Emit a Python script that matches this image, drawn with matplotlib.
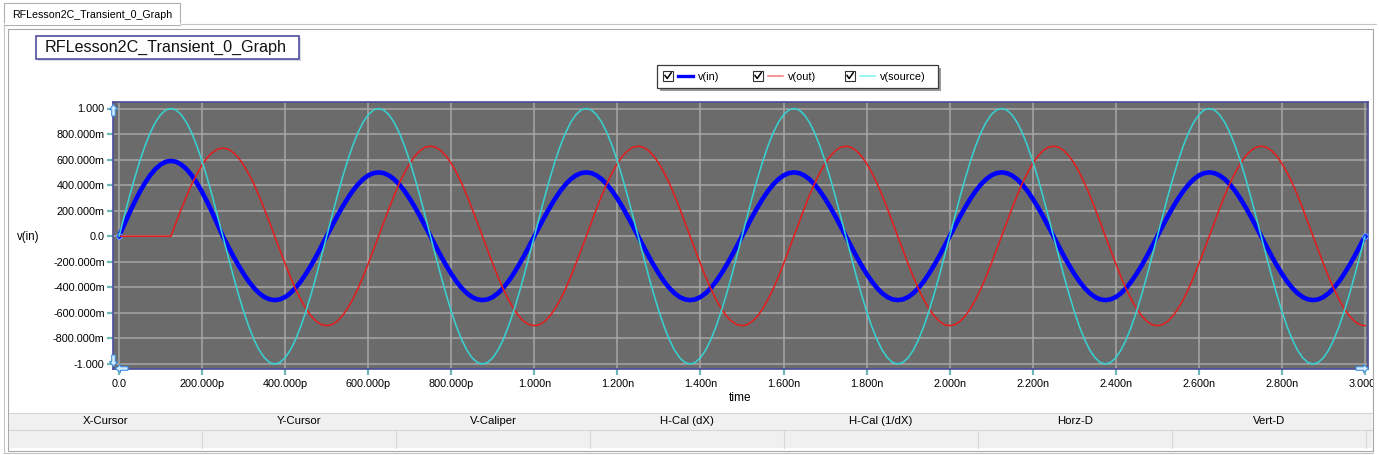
import numpy as np
import matplotlib
matplotlib.use("Agg")
import matplotlib.pyplot as plt
from matplotlib.patches import Rectangle, Polygon
from matplotlib.lines import Line2D

# ---------------- data (12.5 ps steps, 0 .. 3 ns) ----------------
time_ns = np.linspace(0.0, 3.0, 241)

source_v = [
    0.0, 0.156, 0.309, 0.454, 0.588, 0.707, 0.809, 0.891, 0.951, 0.988, 1.0, 0.988, 0.951, 0.891, 0.809, 0.707, 0.588, 0.454, 0.309, 0.156,
    0.0, -0.156, -0.309, -0.454, -0.588, -0.707, -0.809, -0.891, -0.951, -0.988, -1.0, -0.988, -0.951, -0.891, -0.809, -0.707, -0.588, -0.454, -0.309, -0.156,
    0.0, 0.156, 0.309, 0.454, 0.588, 0.707, 0.809, 0.891, 0.951, 0.988, 1.0, 0.988, 0.951, 0.891, 0.809, 0.707, 0.588, 0.454, 0.309, 0.156,
    0.0, -0.156, -0.309, -0.454, -0.588, -0.707, -0.809, -0.891, -0.951, -0.988, -1.0, -0.988, -0.951, -0.891, -0.809, -0.707, -0.588, -0.454, -0.309, -0.156,
    0.0, 0.156, 0.309, 0.454, 0.588, 0.707, 0.809, 0.891, 0.951, 0.988, 1.0, 0.988, 0.951, 0.891, 0.809, 0.707, 0.588, 0.454, 0.309, 0.156,
    0.0, -0.156, -0.309, -0.454, -0.588, -0.707, -0.809, -0.891, -0.951, -0.988, -1.0, -0.988, -0.951, -0.891, -0.809, -0.707, -0.588, -0.454, -0.309, -0.156,
    0.0, 0.156, 0.309, 0.454, 0.588, 0.707, 0.809, 0.891, 0.951, 0.988, 1.0, 0.988, 0.951, 0.891, 0.809, 0.707, 0.588, 0.454, 0.309, 0.156,
    0.0, -0.156, -0.309, -0.454, -0.588, -0.707, -0.809, -0.891, -0.951, -0.988, -1.0, -0.988, -0.951, -0.891, -0.809, -0.707, -0.588, -0.454, -0.309, -0.156,
    0.0, 0.156, 0.309, 0.454, 0.588, 0.707, 0.809, 0.891, 0.951, 0.988, 1.0, 0.988, 0.951, 0.891, 0.809, 0.707, 0.588, 0.454, 0.309, 0.156,
    0.0, -0.156, -0.309, -0.454, -0.588, -0.707, -0.809, -0.891, -0.951, -0.988, -1.0, -0.988, -0.951, -0.891, -0.809, -0.707, -0.588, -0.454, -0.309, -0.156,
    0.0, 0.156, 0.309, 0.454, 0.588, 0.707, 0.809, 0.891, 0.951, 0.988, 1.0, 0.988, 0.951, 0.891, 0.809, 0.707, 0.588, 0.454, 0.309, 0.156,
    0.0, -0.156, -0.309, -0.454, -0.588, -0.707, -0.809, -0.891, -0.951, -0.988, -1.0, -0.988, -0.951, -0.891, -0.809, -0.707, -0.588, -0.454, -0.309, -0.156,
    0.0]

in_v = [
    0.0, 0.092, 0.182, 0.268, 0.347, 0.417, 0.477, 0.526, 0.561, 0.583, 0.590, 0.583, 0.561, 0.526, 0.477, 0.417, 0.347, 0.268, 0.182, 0.092,
    0.0, -0.078, -0.155, -0.227, -0.294, -0.354, -0.405, -0.446, -0.476, -0.494, -0.5, -0.494, -0.476, -0.446, -0.405, -0.354, -0.294, -0.227, -0.155, -0.078,
    0.0, 0.078, 0.155, 0.227, 0.294, 0.354, 0.405, 0.446, 0.476, 0.494, 0.5, 0.494, 0.476, 0.446, 0.405, 0.354, 0.294, 0.227, 0.155, 0.078,
    0.0, -0.078, -0.155, -0.227, -0.294, -0.354, -0.405, -0.446, -0.476, -0.494, -0.5, -0.494, -0.476, -0.446, -0.405, -0.354, -0.294, -0.227, -0.155, -0.078,
    0.0, 0.078, 0.155, 0.227, 0.294, 0.354, 0.405, 0.446, 0.476, 0.494, 0.5, 0.494, 0.476, 0.446, 0.405, 0.354, 0.294, 0.227, 0.155, 0.078,
    0.0, -0.078, -0.155, -0.227, -0.294, -0.354, -0.405, -0.446, -0.476, -0.494, -0.5, -0.494, -0.476, -0.446, -0.405, -0.354, -0.294, -0.227, -0.155, -0.078,
    0.0, 0.078, 0.155, 0.227, 0.294, 0.354, 0.405, 0.446, 0.476, 0.494, 0.5, 0.494, 0.476, 0.446, 0.405, 0.354, 0.294, 0.227, 0.155, 0.078,
    0.0, -0.078, -0.155, -0.227, -0.294, -0.354, -0.405, -0.446, -0.476, -0.494, -0.5, -0.494, -0.476, -0.446, -0.405, -0.354, -0.294, -0.227, -0.155, -0.078,
    0.0, 0.078, 0.155, 0.227, 0.294, 0.354, 0.405, 0.446, 0.476, 0.494, 0.5, 0.494, 0.476, 0.446, 0.405, 0.354, 0.294, 0.227, 0.155, 0.078,
    0.0, -0.078, -0.155, -0.227, -0.294, -0.354, -0.405, -0.446, -0.476, -0.494, -0.5, -0.494, -0.476, -0.446, -0.405, -0.354, -0.294, -0.227, -0.155, -0.078,
    0.0, 0.078, 0.155, 0.227, 0.294, 0.354, 0.405, 0.446, 0.476, 0.494, 0.5, 0.494, 0.476, 0.446, 0.405, 0.354, 0.294, 0.227, 0.155, 0.078,
    0.0, -0.078, -0.155, -0.227, -0.294, -0.354, -0.405, -0.446, -0.476, -0.494, -0.5, -0.494, -0.476, -0.446, -0.405, -0.354, -0.294, -0.227, -0.155, -0.078,
    0.0]

out_v = [
    0.0, 0.0, 0.0, 0.0, 0.0, 0.0, 0.0, 0.0, 0.0, 0.0, 0.0,
    0.108, 0.213, 0.313, 0.406, 0.488, 0.558, 0.615, 0.656, 0.682, 0.690, 0.682, 0.656, 0.615, 0.558, 0.488, 0.406, 0.313, 0.213, 0.108, 0.0,
    -0.109, -0.216, -0.318, -0.412, -0.495, -0.566, -0.624, -0.666, -0.692, -0.70, -0.692, -0.666, -0.624, -0.566, -0.495, -0.412, -0.318, -0.216, -0.109, 0.0,
    0.110, 0.218, 0.320, 0.415, 0.498, 0.570, 0.628, 0.670, 0.697, 0.705, 0.697, 0.670, 0.628, 0.570, 0.498, 0.415, 0.320, 0.218, 0.110, 0.0,
    -0.109, -0.216, -0.318, -0.412, -0.495, -0.566, -0.624, -0.666, -0.692, -0.70, -0.692, -0.666, -0.624, -0.566, -0.495, -0.412, -0.318, -0.216, -0.109, 0.0,
    0.110, 0.218, 0.320, 0.415, 0.498, 0.570, 0.628, 0.670, 0.697, 0.705, 0.697, 0.670, 0.628, 0.570, 0.498, 0.415, 0.320, 0.218, 0.110, 0.0,
    -0.109, -0.216, -0.318, -0.412, -0.495, -0.566, -0.624, -0.666, -0.692, -0.70, -0.692, -0.666, -0.624, -0.566, -0.495, -0.412, -0.318, -0.216, -0.109, 0.0,
    0.110, 0.218, 0.320, 0.415, 0.498, 0.570, 0.628, 0.670, 0.697, 0.705, 0.697, 0.670, 0.628, 0.570, 0.498, 0.415, 0.320, 0.218, 0.110, 0.0,
    -0.109, -0.216, -0.318, -0.412, -0.495, -0.566, -0.624, -0.666, -0.692, -0.70, -0.692, -0.666, -0.624, -0.566, -0.495, -0.412, -0.318, -0.216, -0.109, 0.0,
    0.110, 0.218, 0.320, 0.415, 0.498, 0.570, 0.628, 0.670, 0.697, 0.705, 0.697, 0.670, 0.628, 0.570, 0.498, 0.415, 0.320, 0.218, 0.110, 0.0,
    -0.109, -0.216, -0.318, -0.412, -0.495, -0.566, -0.624, -0.666, -0.692, -0.70, -0.692, -0.666, -0.624, -0.566, -0.495, -0.412, -0.318, -0.216, -0.109, 0.0,
    0.110, 0.218, 0.320, 0.415, 0.498, 0.570, 0.628, 0.670, 0.697, 0.705, 0.697, 0.670, 0.628, 0.570, 0.498, 0.415, 0.320, 0.218, 0.110, 0.0,
    -0.109, -0.216, -0.318, -0.412, -0.495, -0.566, -0.624, -0.666, -0.692, -0.70]

xtick_vals = [0.0, 0.2, 0.4, 0.6, 0.8, 1.0, 1.2, 1.4, 1.6, 1.8, 2.0, 2.2, 2.4, 2.6, 2.8, 3.0]
xtick_labels = ["0.0", "200.000p", "400.000p", "600.000p", "800.000p", "1.000n", "1.200n", "1.400n",
                "1.600n", "1.800n", "2.000n", "2.200n", "2.400n", "2.600n", "2.800n", "3.000n"]
ytick_vals = [1.0, 0.8, 0.6, 0.4, 0.2, 0.0, -0.2, -0.4, -0.6, -0.8, -1.0]
ytick_labels = ["1.000", "800.000m", "600.000m", "400.000m", "200.000m", "0.0",
                "-200.000m", "-400.000m", "-600.000m", "-800.000m", "-1.000"]
series_names = ["v(in)", "v(out)", "v(source)"]
table_headers = ["X-Cursor", "Y-Cursor", "V-Caliper", "H-Cal (dX)", "H-Cal (1/dX)", "Horz-D", "Vert-D"]
graph_title = "RFLesson2C_Transient_0_Graph"

# ---------------- figure ----------------
W, H = 1379, 455
FONT = "Liberation Sans"
plt.rcParams["font.family"] = [FONT, "DejaVu Sans"]
fig = plt.figure(figsize=(W / 100, H / 100), dpi=100)
fig.patch.set_facecolor("white")


def fx(x):
    return x / W


def fy(y):
    return 1 - y / H


def rect(x0, y0, x1, y1, fc="none", ec="none", lw=1.0, z=-5):
    fig.add_artist(Rectangle((fx(x0), fy(y1)), (x1 - x0) / W, (y1 - y0) / H,
                             transform=fig.transFigure, facecolor=fc, edgecolor=ec,
                             linewidth=lw, zorder=z))


def line(xs, ys, color, lw=1.0, z=-4, **kw):
    fig.add_artist(Line2D([fx(x) for x in xs], [fy(y) for y in ys], transform=fig.transFigure,
                          color=color, linewidth=lw, zorder=z, **kw))


def poly(pts, fc, ec, lw=0.8, z=10):
    fig.add_artist(Polygon([(fx(x), fy(y)) for x, y in pts], closed=True, transform=fig.transFigure,
                           facecolor=fc, edgecolor=ec, linewidth=lw, zorder=z))


def text(x, y, s, size, ha="left", va="center", color="black", z=5):
    fig.text(fx(x), fy(y), s, ha=ha, va=va, fontsize=size, color=color, zorder=z, family=[FONT, "DejaVu Sans"])


# window frame / tab
rect(4, 24, 1376, 453, fc="white", ec="#c4c4c4", lw=0.8, z=-10)
rect(8, 29, 1373, 450.5, fc="white", ec="#a8a8a8", lw=0.8, z=-9)
rect(4, 3, 180, 24.5, fc="white", ec="#b0b0b0", lw=0.8, z=-8)
line([4.5, 179.5], [24, 24], "white", lw=1.2, z=-7)
text(12, 14.5, graph_title, 7.7)

# title box
rect(38, 38, 301, 61, fc="#d8d8e8", ec="none", z=-6)
rect(36, 36, 299, 59, fc="white", ec="#5c5ca6", lw=1.3, z=-5)
text(45, 47.5, graph_title, 11.6, color="#111111")

# bottom cursor table
rect(9, 413, 1372, 448, fc="#f0f0f0", ec="none", z=-7)
line([9, 1372], [413.2, 413.2], "#d6d6d6", lw=0.8, z=-6)
line([9, 1372], [429.5, 429.5], "#d6d6d6", lw=0.8, z=-6)
for i, hdr in enumerate(table_headers):
    cx = 105 + 194 * i
    text(cx, 421.5, hdr, 8.2, ha="center")
    sx = 202 + 194 * i
    line([sx, sx], [430, 447.5], "#d8d8d8", lw=0.8, z=-6)

# ---------------- plot axes ----------------
ax_left, ax_right, ax_top, ax_bot = 113, 1368, 102, 369
ax = fig.add_axes([fx(ax_left), fy(ax_bot), (ax_right - ax_left) / W, (ax_bot - ax_top) / H])
px_per_ns = (1365 - 119) / 3.0
px_per_v = (364 - 108.5) / 2.0
ax.set_xlim(-(119 - ax_left) / px_per_ns, 3.0 + (ax_right - 1365) / px_per_ns)
ax.set_ylim(-1.0 - (ax_bot - 364) / px_per_v, 1.0 + (108.5 - ax_top) / px_per_v)
ax.set_facecolor("#6b6b6b")
ax.set_axisbelow(True)
ax.grid(True, color="#a6a6a6", linewidth=1.1)
for sp in ax.spines.values():
    sp.set_color("#4c4c9c")
    sp.set_linewidth(1.2)

ax.set_xticks(xtick_vals)
ax.set_xticklabels(xtick_labels)
ax.set_yticks(ytick_vals)
ax.set_yticklabels(ytick_labels)
ax.tick_params(axis="both", direction="out", length=4.0, width=1.6, color="#6fb6b6",
               labelsize=7.8, pad=2.0, labelcolor="black")
ax.tick_params(axis="x", pad=3.0)

ax.plot(time_ns, in_v, color="#0000ff", linewidth=3.3, solid_capstyle="round",
        solid_joinstyle="round", zorder=3)
ax.plot(time_ns[[0, -1]], np.array(in_v)[[0, -1]], linestyle="none", marker="o", markersize=4,
        markerfacecolor="#0000ff", markeredgecolor="#6aa8ff", markeredgewidth=0.8, zorder=3.5)
ax.plot(time_ns, out_v, color="#e41e1e", linewidth=1.15, zorder=4)
ax.plot(time_ns, source_v, color="#38d0d0", linewidth=1.15, zorder=5)

# axis titles
text(28, 236.5, "v(in)", 8.3, ha="center")
text(740, 398, "time", 8.6, ha="center")

# corner scroll arrows of the graph frame
ARW_FC, ARW_EC = "#d6ebff", "#3d8fe0"
poly([(113.5, 104.5), (117.5, 109.5), (115.3, 109.5), (115.3, 116), (111.7, 116), (111.7, 109.5), (109.5, 109.5)], ARW_FC, ARW_EC)
poly([(113.5, 366.5), (117.5, 361.5), (115.3, 361.5), (115.3, 355), (111.7, 355), (111.7, 361.5), (109.5, 361.5)], ARW_FC, ARW_EC)
poly([(115.5, 368.5), (120.5, 364.5), (120.5, 366.7), (128, 366.7), (128, 370.3), (120.5, 370.3), (120.5, 372.5)], ARW_FC, ARW_EC)
poly([(1368.5, 368.5), (1363.5, 364.5), (1363.5, 366.7), (1356, 366.7), (1356, 370.3), (1363.5, 370.3), (1363.5, 372.5)], ARW_FC, ARW_EC)

# ---------------- legend ----------------
rect(660, 68, 941, 91, fc="#9a9a9a", ec="none", z=6)
rect(657, 65, 938, 88, fc="white", ec="#3a3a3a", lw=0.9, z=7)
legend_x = [663, 753, 845]
legend_colors = ["#0000ff", "#f47878", "#78f4f4"]
legend_lw = [2.4, 1.1, 1.1]
for i, name in enumerate(series_names):
    bx = legend_x[i]
    rect(bx, 71, bx + 10, 81, fc="white", ec="#333333", lw=0.8, z=8)
    line([bx + 2, bx + 4.2, bx + 8.2], [75.5, 78.5, 72.8], "black", lw=1.1, z=9)
    line([bx + 15, bx + 29.5], [76, 76], legend_colors[i], lw=legend_lw[i], z=9)
    text(bx + 34.5, 76.5, name, 7.8, z=9)

# clip to window edge on the right
rect(1373.6, 25, 1379.5, 455, fc="white", ec="none", z=20)
line([1373, 1373], [29, 450.5], "#a8a8a8", lw=0.8, z=21)

fig.savefig("out.png", dpi=100)
